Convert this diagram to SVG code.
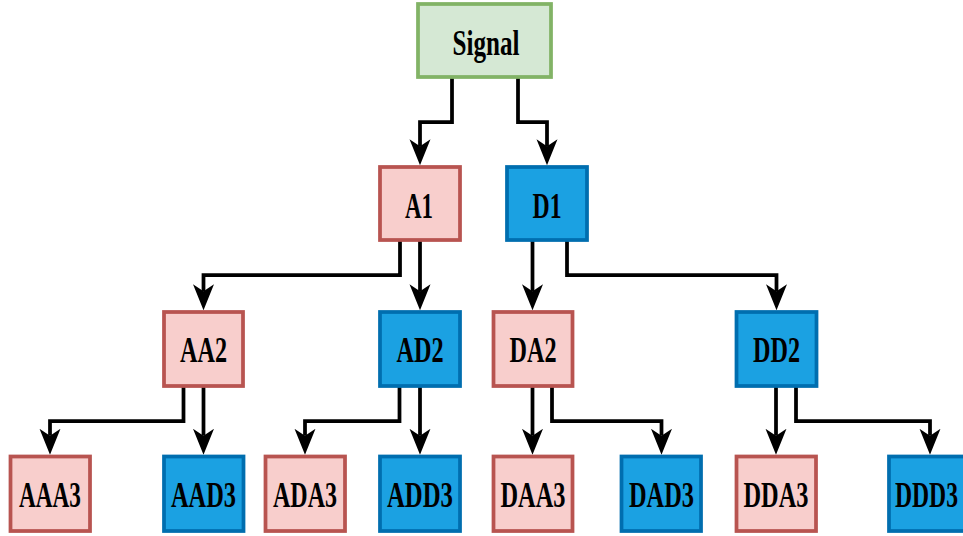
<svg xmlns="http://www.w3.org/2000/svg" width="963" height="536" viewBox="0 0 963 536">
  <style>
    .box { stroke-width: 3.75; }
    .green { fill: #d5e8d4; stroke: #82b366; }
    .red { fill: #f8cecc; stroke: #b85450; }
    .blue { fill: #1ba1e2; stroke: #006eaf; }
    .label { font-family: "Liberation Serif", "Times New Roman", serif; font-weight: bold; font-size: 36px; fill: #000; text-anchor: middle; }
    .edge { fill: none; stroke: #000; stroke-width: 3.75; stroke-linejoin: miter; }
  </style>
  <defs>
    <marker id="arrow" markerUnits="userSpaceOnUse" markerWidth="27" markerHeight="23" viewBox="0 -11.5 27 23" refX="7" refY="0" orient="auto">
      <path d="M26,0 L0,-10.5 L7,0 L0,10.5 Z" fill="#000"/>
    </marker>
  </defs>

  <!-- connectors -->
  <g id="connectors">
    <path class="edge" marker-end="url(#arrow)" d="M452 77 V122 H420 V146.25"/>
    <path class="edge" marker-end="url(#arrow)" d="M518 77 V122 H547 V146.25"/>
    <path class="edge" marker-end="url(#arrow)" d="M400 240 V275 H203.5 V291.25"/>
    <path class="edge" marker-end="url(#arrow)" d="M420 240 V291.25"/>
    <path class="edge" marker-end="url(#arrow)" d="M532.5 240 V291.25"/>
    <path class="edge" marker-end="url(#arrow)" d="M567 240 V275 H776.5 V291.25"/>
    <path class="edge" marker-end="url(#arrow)" d="M183.5 386 V421 H50 V435.75"/>
    <path class="edge" marker-end="url(#arrow)" d="M203.5 386 V435.75"/>
    <path class="edge" marker-end="url(#arrow)" d="M399.5 386 V421 H305 V435.75"/>
    <path class="edge" marker-end="url(#arrow)" d="M420 386 V435.75"/>
    <path class="edge" marker-end="url(#arrow)" d="M532.5 386 V435.75"/>
    <path class="edge" marker-end="url(#arrow)" d="M552 386 V421 H661.5 V435.75"/>
    <path class="edge" marker-end="url(#arrow)" d="M776 386 V435.75"/>
    <path class="edge" marker-end="url(#arrow)" d="M796 386 V421 H930 V435.75"/>
  </g>

  <!-- root -->
  <g id="signal">
    <rect class="box green" x="418" y="4" width="133" height="73"/>
    <text class="label" x="486" y="55" textLength="67" lengthAdjust="spacingAndGlyphs">Signal</text>
  </g>

  <!-- level 1 -->
  <g id="a1">
    <rect class="box red" x="380" y="167" width="80" height="73"/>
    <text class="label" x="419" y="217.5" textLength="28" lengthAdjust="spacingAndGlyphs">A1</text>
  </g>
  <g id="d1">
    <rect class="box blue" x="507" y="167" width="80" height="73"/>
    <text class="label" x="547" y="217.5" textLength="29" lengthAdjust="spacingAndGlyphs">D1</text>
  </g>

  <!-- level 2 -->
  <g id="aa2">
    <rect class="box red" x="164" y="312" width="79" height="74"/>
    <text class="label" x="203.5" y="362" textLength="47" lengthAdjust="spacingAndGlyphs">AA2</text>
  </g>
  <g id="ad2">
    <rect class="box blue" x="380" y="312" width="80" height="74"/>
    <text class="label" x="420" y="362" textLength="47" lengthAdjust="spacingAndGlyphs">AD2</text>
  </g>
  <g id="da2">
    <rect class="box red" x="493.5" y="312" width="79" height="74"/>
    <text class="label" x="533" y="362" textLength="47" lengthAdjust="spacingAndGlyphs">DA2</text>
  </g>
  <g id="dd2">
    <rect class="box blue" x="736.5" y="312" width="80" height="74"/>
    <text class="label" x="776.5" y="362" textLength="47" lengthAdjust="spacingAndGlyphs">DD2</text>
  </g>

  <!-- level 3 -->
  <g id="aaa3">
    <rect class="box red" x="10.5" y="456.5" width="79.5" height="74.5"/>
    <text class="label" x="50" y="506.5" textLength="62" lengthAdjust="spacingAndGlyphs">AAA3</text>
  </g>
  <g id="aad3">
    <rect class="box blue" x="164" y="456.5" width="79.5" height="74.5"/>
    <text class="label" x="203.5" y="506.5" textLength="65" lengthAdjust="spacingAndGlyphs">AAD3</text>
  </g>
  <g id="ada3">
    <rect class="box red" x="265.5" y="456.5" width="79.5" height="74.5"/>
    <text class="label" x="305" y="506.5" textLength="64" lengthAdjust="spacingAndGlyphs">ADA3</text>
  </g>
  <g id="add3">
    <rect class="box blue" x="380" y="456.5" width="80" height="74.5"/>
    <text class="label" x="420" y="506.5" textLength="66" lengthAdjust="spacingAndGlyphs">ADD3</text>
  </g>
  <g id="daa3">
    <rect class="box red" x="493.5" y="456.5" width="79" height="74.5"/>
    <text class="label" x="533" y="506.5" textLength="65" lengthAdjust="spacingAndGlyphs">DAA3</text>
  </g>
  <g id="dad3">
    <rect class="box blue" x="621.5" y="456.5" width="79.5" height="74.5"/>
    <text class="label" x="661.5" y="506.5" textLength="65" lengthAdjust="spacingAndGlyphs">DAD3</text>
  </g>
  <g id="dda3">
    <rect class="box red" x="736.5" y="456.5" width="79.5" height="74.5"/>
    <text class="label" x="776" y="506.5" textLength="65" lengthAdjust="spacingAndGlyphs">DDA3</text>
  </g>
  <g id="ddd3">
    <rect class="box blue" x="889" y="456.5" width="80" height="74.5"/>
    <text class="label" x="926.5" y="506.5" textLength="63" lengthAdjust="spacingAndGlyphs">DDD3</text>
  </g>
</svg>
